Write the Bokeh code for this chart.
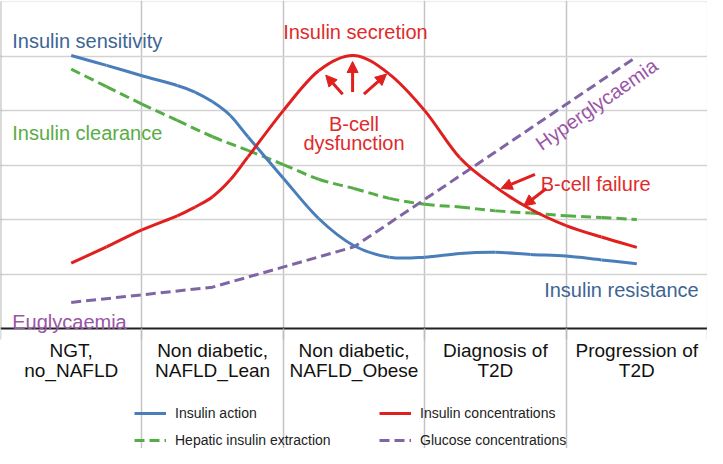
from bokeh.plotting import figure
from bokeh.models import Range1d, FixedTicker, Arrow, NormalHead, Legend, LegendItem, Label, BoxAnnotation
from bokeh.embed import file_html
from bokeh.resources import INLINE

# ---------------- data ----------------
categories = ["NGT,\nno_NAFLD", "Non diabetic,\nNAFLD_Lean", "Non diabetic,\nNAFLD_Obese",
              "Diagnosis of\nT2D", "Progression of\nT2D"]
cat_pos = [0.5, 1.5, 2.5, 3.5, 4.5]
boundaries = [0, 1, 2, 3, 4, 5]

x_action = [0.5, 0.75, 1.0, 1.25, 1.375, 1.5, 1.625, 1.75, 2.0, 2.25, 2.5, 2.75, 3.0, 3.25, 3.5, 3.75, 4.0, 4.25, 4.5]
insulin_action = [5.01, 4.83, 4.64, 4.46, 4.34, 4.16, 3.91, 3.52, 2.76, 2.02, 1.52, 1.31, 1.31, 1.38, 1.40, 1.36, 1.33, 1.26, 1.19]

x_hepatic = [0.5, 0.75, 1.0, 1.25, 1.5, 1.75, 2.0, 2.25, 2.5, 2.75, 3.0, 3.25, 3.5, 3.75, 4.0, 4.25, 4.5]
hepatic_extraction = [4.76, 4.44, 4.12, 3.82, 3.52, 3.27, 3.01, 2.74, 2.57, 2.39, 2.28, 2.23, 2.16, 2.12, 2.07, 2.04, 2.00]

x_conc = [0.5, 0.75, 1.0, 1.25, 1.375, 1.5, 1.625, 1.75, 2.0, 2.25, 2.5, 2.75, 3.0, 3.25, 3.5, 3.75, 4.0, 4.25, 4.5]
insulin_conc = [1.20, 1.50, 1.81, 2.07, 2.23, 2.42, 2.73, 3.15, 4.00, 4.73, 5.01, 4.67, 4.00, 3.13, 2.60, 2.19, 1.89, 1.68, 1.49]

glucose_conc = [0.48, 0.76, 1.50, 3.24, 4.99]

legend_labels = ["Insulin action", "Insulin concentrations", "Hepatic insulin extraction", "Glucose concentrations"]

BLUE, RED, GREEN, PURPLE = "#4a7ebb", "#e0201e", "#55ad46", "#8065a5"
BLUE_T, RED_T, GREEN_T, PURPLE_T = "#3d6595", "#e02b2b", "#58ad45", "#9a55a6"
FONT = "Liberation Sans"
Y_TOP = 6.0

p = figure(width=707, height=448, x_range=Range1d(0, 5), y_range=Range1d(-2.2, 6.02),
           output_backend="svg", toolbar_location=None,
           min_border_left=0, min_border_right=0, min_border_top=0, min_border_bottom=0)
p.yaxis.visible = False
p.outline_line_color = None
p.background_fill_color = "white"

ax = p.xaxis[0]
ax.fixed_location = 0
ax.ticker = FixedTicker(ticks=cat_pos, minor_ticks=boundaries)
ax.major_label_overrides = {pos: lab for pos, lab in zip(cat_pos, categories)}
ax.major_tick_line_color = None
ax.minor_tick_in = 0
ax.minor_tick_out = 11
ax.minor_tick_line_color = "#bdbdbd"
ax.minor_tick_line_width = 1.5
ax.axis_line_color = "#222222"
ax.axis_line_width = 2
ax.major_label_text_font = FONT
ax.major_label_text_font_size = "19px"
ax.major_label_text_color = "#111111"
ax.major_label_text_line_height = 0.95
ax.major_label_standoff = 0

p.xgrid.ticker = FixedTicker(ticks=[1, 2, 3, 4])
p.xgrid.bounds = (0, Y_TOP)
p.xgrid.grid_line_color = "#c4c4c4"
p.xgrid.grid_line_width = 1.5
p.ygrid.ticker = FixedTicker(ticks=[1, 2, 3, 4, 5])
p.ygrid.grid_line_color = "#d2d2d2"
p.ygrid.grid_line_width = 1.5

# plot-area border (grey top/right, dark left)
p.add_layout(BoxAnnotation(left=0, right=5, bottom=0, top=Y_TOP, fill_alpha=0,
                           line_color="#c8c8c8", line_width=1.5, level="underlay"))
p.add_layout(BoxAnnotation(left=0, right=0, bottom=0, top=Y_TOP, fill_alpha=0,
                           line_color="#333333", line_width=2))


def smooth(xs, ys):
    """Bezier control points (Catmull-Rom) for a smoothed line through the read points."""
    n = len(xs)
    out = dict(x0=[], y0=[], x1=[], y1=[], cx0=[], cy0=[], cx1=[], cy1=[])
    for i in range(n - 1):
        xa, ya = (xs[i - 1], ys[i - 1]) if i > 0 else (xs[i], ys[i])
        xb, yb = (xs[i + 2], ys[i + 2]) if i + 2 < n else (xs[i + 1], ys[i + 1])
        out["x0"].append(xs[i]); out["y0"].append(ys[i])
        out["x1"].append(xs[i + 1]); out["y1"].append(ys[i + 1])
        out["cx0"].append(xs[i] + (xs[i + 1] - xa) / 6); out["cy0"].append(ys[i] + (ys[i + 1] - ya) / 6)
        out["cx1"].append(xs[i + 1] - (xb - xs[i]) / 6); out["cy1"].append(ys[i + 1] - (yb - ys[i]) / 6)
    return out


p.bezier(**smooth(x_hepatic, hepatic_extraction), line_color=GREEN, line_width=3, line_dash="10 5")
r_purple = p.line(cat_pos, glucose_conc, line_color=PURPLE, line_width=3, line_dash="10 5")
p.bezier(**smooth(x_action, insulin_action), line_color=BLUE, line_width=3)
p.bezier(**smooth(x_conc, insulin_conc), line_color=RED, line_width=3)

# legend entries (same styles; hidden, the smoothed curves above are what is shown)
r_blue = p.line(x_action, insulin_action, line_color=BLUE, line_width=3, visible=False)
r_red = p.line(x_conc, insulin_conc, line_color=RED, line_width=3, visible=False)
r_green = p.line(x_hepatic, hepatic_extraction, line_color=GREEN, line_width=3, line_dash="10 5", visible=False)


def lab(text, x, y, color, align="left", angle=0):
    p.add_layout(Label(x=x, y=y, text=text, text_color=color, text_font=FONT, text_font_size="20px",
                       text_align=align, text_baseline="alphabetic", angle=angle, angle_units="deg"))


lab("Insulin sensitivity", 0.083, 5.27, BLUE_T)
lab("Insulin clearance", 0.083, 3.59, GREEN_T)
lab("Insulin secretion", 2.51, 5.45, RED_T, "center")
lab("B-cell", 2.50, 3.75, RED_T, "center")
lab("dysfunction", 2.50, 3.40, RED_T, "center")
lab("B-cell failure", 3.82, 2.65, RED_T)
lab("Hyperglycaemia", 3.80, 3.36, PURPLE_T, "left", 35)
lab("Euglycaemia", 0.083, 0.12, PURPLE_T)
lab("Insulin resistance", 3.845, 0.71, BLUE_T)

arrows = [((2.42, 4.30), (2.30, 4.65)), ((2.49, 4.34), (2.49, 4.90)), ((2.57, 4.30), (2.73, 4.67)),
          ((3.78, 2.83), (3.54, 2.57)), ((3.86, 2.57), (3.70, 2.25))]
for (xs, ys), (xe, ye) in arrows:
    p.add_layout(Arrow(end=NormalHead(size=11, fill_color=RED, line_color=RED, line_width=1),
                       x_start=xs, y_start=ys, x_end=xe, y_end=ye, line_color=RED, line_width=3))

legend = Legend(items=[LegendItem(label=legend_labels[0], renderers=[r_blue]),
                       LegendItem(label=legend_labels[1], renderers=[r_red]),
                       LegendItem(label=legend_labels[2], renderers=[r_green]),
                       LegendItem(label=legend_labels[3], renderers=[r_purple])],
                orientation="horizontal", ncols=2, location=(134, 0),
                glyph_width=32, glyph_height=16, label_standoff=9, label_width=193, spacing=11,
                padding=0, margin=0, border_line_color=None, background_fill_alpha=0,
                label_text_font=FONT, label_text_font_size="14px", label_text_color="#222222")
p.add_layout(legend)

open("out.html", "w").write(file_html(p, INLINE))
